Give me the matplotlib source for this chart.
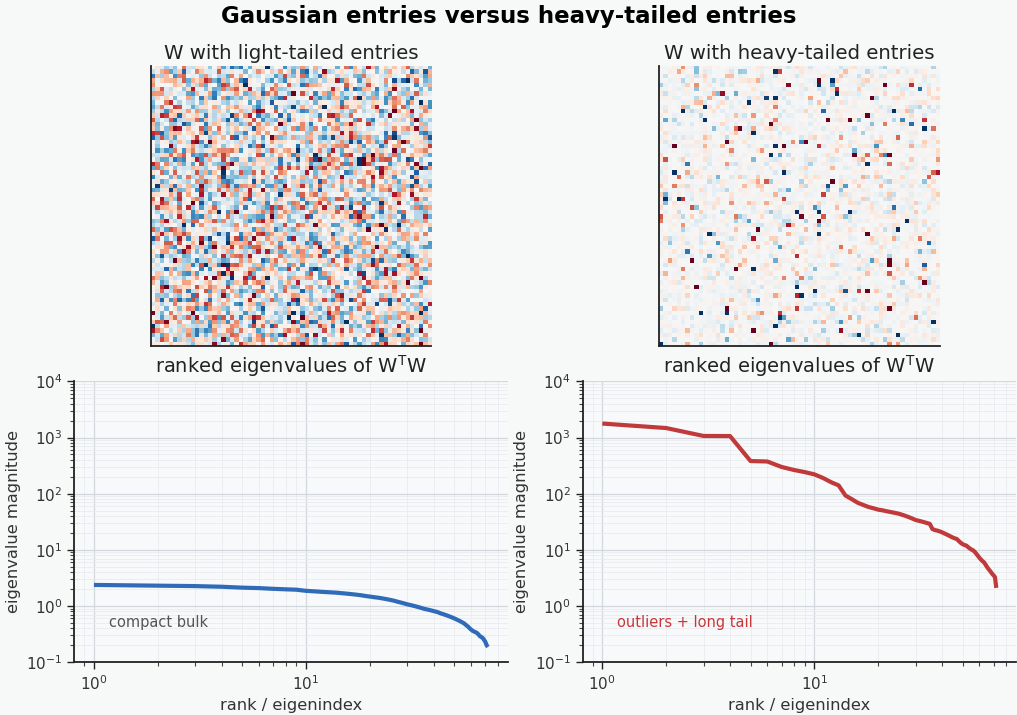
import matplotlib
matplotlib.use("Agg")
import matplotlib.pyplot as plt
import numpy as np

# ranked eigenvalues of W^T W (72 each)
gaussianEigs = [
    2.37, 2.30, 2.26, 2.20, 2.12, 2.08, 2.02, 1.98, 1.95, 1.86,
    1.82, 1.78, 1.75, 1.72, 1.68, 1.64, 1.60, 1.56, 1.51, 1.47,
    1.43, 1.40, 1.36, 1.32, 1.28, 1.24, 1.19, 1.15, 1.11, 1.07,
    1.04, 1.01, 0.98, 0.95, 0.92, 0.89, 0.87, 0.85, 0.83, 0.81,
    0.79, 0.77, 0.74, 0.72, 0.70, 0.68, 0.66, 0.64, 0.62, 0.60,
    0.58, 0.56, 0.54, 0.52, 0.50, 0.48, 0.45, 0.43, 0.40, 0.38,
    0.36, 0.35, 0.34, 0.33, 0.31, 0.29, 0.28, 0.27, 0.25, 0.23,
    0.20, 0.186,
]
heavyEigs = [
    1780, 1480, 1070, 1065, 382, 375, 300, 265, 243, 221,
    190, 160, 141, 93, 80, 69, 63, 58, 55, 52,
    50.5, 48.5, 47, 45.5, 44, 42, 40, 38, 36, 34,
    33, 32, 31, 30, 29, 23.5, 22.5, 22, 21.3, 20.5,
    19.6, 18.8, 18, 17.2, 16.5, 16, 15.5, 14.3, 13.3, 12.6,
    12.2, 11.9, 11.2, 10.6, 10.1, 9.8, 9.2, 8.5, 7.8, 7.2,
    6.7, 6.3, 6.0, 5.5, 5.0, 4.6, 4.3, 4.0, 3.7, 3.5,
    3.25, 2.1,
]

heatTitles = ["W with light-tailed entries", "W with heavy-tailed entries"]
eigTitle = r"ranked eigenvalues of $\mathregular{W^{T}W}$"
notes = ["compact bulk", "outliers + long tail"]
lineColors = ["#2f6bb8", "#c0393b"]
noteColors = ["#555555", "#c8383a"]

# the W panels are pure noise textures; a fixed seed stands in for the cells
matSize = 64
rng = np.random.default_rng(7)
lightW = rng.standard_normal((matSize, matSize))
heavyW = rng.standard_t(1.2, (matSize, matSize))
# colour limits: clip so only the rare outliers saturate
lightLim = 2.5
heavyLim = np.percentile(np.abs(heavyW), 98.5)

fig, axes = plt.subplots(2, 2, figsize=(10.17, 7.15), dpi=100)
fig.patch.set_facecolor("#f7f8f8")
fig.subplots_adjust(left=0.073, right=0.999, top=0.908, bottom=0.074,
                    wspace=0.173, hspace=0.125)
fig.suptitle("Gaussian entries versus heavy-tailed entries",
             fontsize=16.5, fontweight="bold", y=0.993)

for i, (mat, vmax) in enumerate([(lightW, lightLim), (heavyW, heavyLim)]):
    ax = axes[0, i]
    ax.imshow(mat, cmap="RdBu_r", vmin=-vmax, vmax=vmax,
              interpolation="nearest")
    ax.set_xticks([])
    ax.set_yticks([])
    for side in ["top", "right"]:
        ax.spines[side].set_visible(False)
    for side in ["left", "bottom"]:
        ax.spines[side].set_color("#222222")
        ax.spines[side].set_linewidth(1.3)
    ax.set_title(heatTitles[i], fontsize=14.2, color="#222222", pad=5)

for i, eigs in enumerate([gaussianEigs, heavyEigs]):
    ax = axes[1, i]
    ranks = np.arange(1, len(eigs) + 1)
    ax.set_facecolor("#f8f9fa")
    ax.plot(ranks, eigs, color=lineColors[i], lw=3, solid_capstyle="butt")
    ax.set_xscale("log")
    ax.set_yscale("log")
    ax.set_ylim(1e-1, 1e4)
    ax.grid(True, which="major", color="#d3d7de", lw=0.9)
    ax.grid(True, which="minor", color="#e8eaee", lw=0.55)
    ax.set_axisbelow(True)
    for side in ["top", "right"]:
        ax.spines[side].set_visible(False)
    for side in ["left", "bottom"]:
        ax.spines[side].set_color("#222222")
        ax.spines[side].set_linewidth(1.3)
    ax.tick_params(which="major", length=5, width=1, colors="#222222",
                   labelsize=11, labelcolor="#333333")
    ax.tick_params(which="minor", length=3, width=0.8, colors="#444444")
    ax.set_title(eigTitle, fontsize=14, color="#222222", pad=6)
    ax.set_xlabel("rank / eigenindex", fontsize=11.7, color="#333333")
    ax.set_ylabel("eigenvalue magnitude", fontsize=11.7, color="#333333")
    ax.text(0.08, 0.14, notes[i], transform=ax.transAxes, fontsize=10.5,
            color=noteColors[i], va="center")

fig.savefig("out.png", dpi=100, facecolor=fig.get_facecolor())
